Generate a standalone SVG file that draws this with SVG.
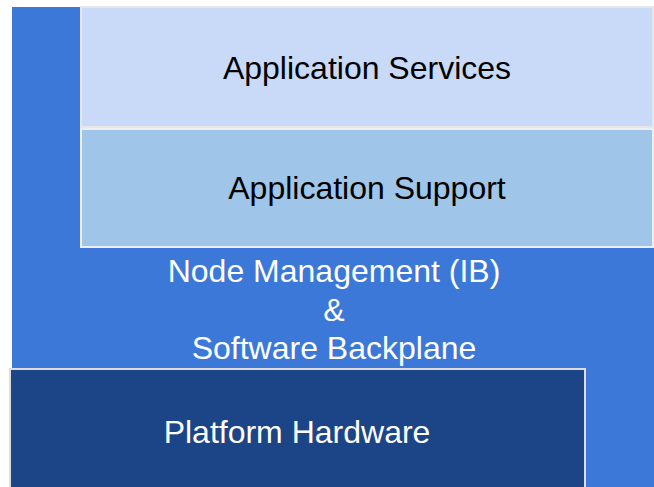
<svg xmlns="http://www.w3.org/2000/svg" width="654" height="487" viewBox="0 0 654 487">
<style>
.t{font-family:"Liberation Sans",Arial,sans-serif;font-size:32px;text-anchor:middle}
.dk{fill:#000}
.wt{fill:#fff}
</style>
<rect width="654" height="487" fill="#fff"/>
<g id="backplane">
<polygon points="12,7 654,7 654,487 586,487 586,369 12,369" fill="#3c78d8"/>
<text class="t wt" x="334" y="282">Node Management (IB)</text>
<text class="t wt" x="334" y="321">&amp;</text>
<text class="t wt" x="334" y="359">Software Backplane</text>
</g>
<g id="app-services">
<rect x="81" y="7" width="572" height="120" fill="#c9daf8" stroke="#e6e6e6" stroke-width="2"/>
<text class="t dk" x="367" y="79">Application Services</text>
</g>
<g id="app-support">
<rect x="81" y="129" width="572" height="118" fill="#9fc5e8" stroke="#eeeeee" stroke-width="2"/>
<text class="t dk" x="367" y="199">Application Support</text>
</g>
<g id="hardware">
<rect x="10" y="369" width="575" height="120" fill="#1c4587" stroke="#dddddd" stroke-width="2"/>
<text class="t wt" x="297" y="443">Platform Hardware</text>
</g>
<g id="connectors"/>
</svg>
